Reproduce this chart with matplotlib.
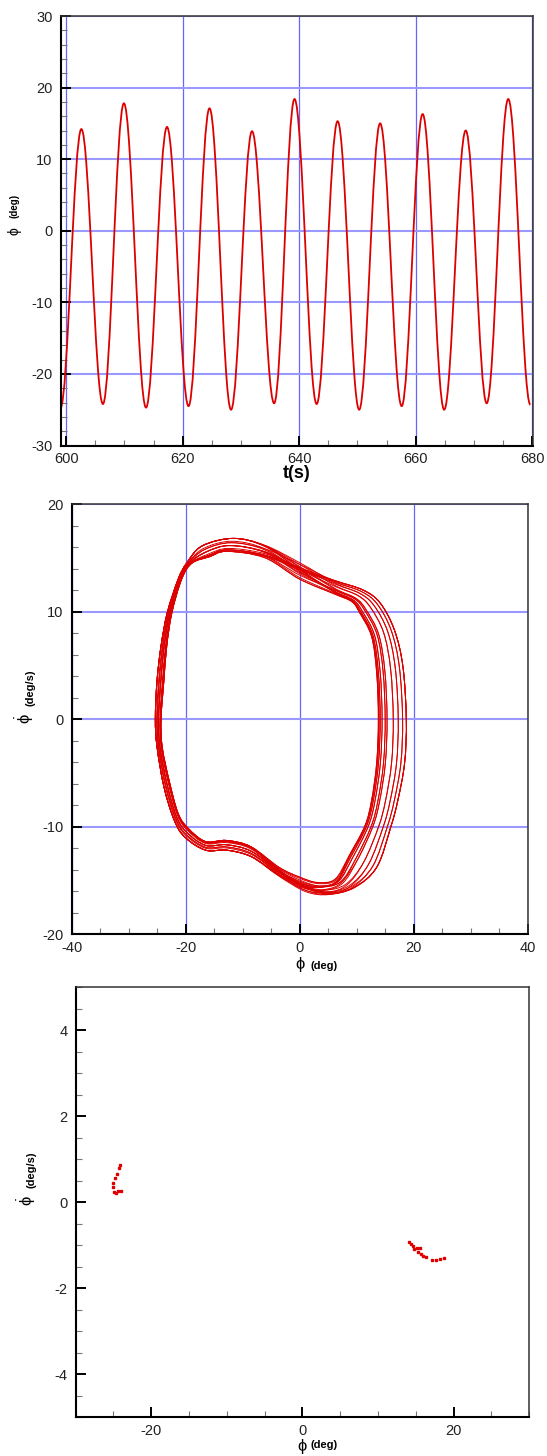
import matplotlib
matplotlib.use('Agg')
import matplotlib.pyplot as plt
from matplotlib.path import Path
from matplotlib.patches import PathPatch
from matplotlib.ticker import MultipleLocator
import numpy as np

plt.rcParams['font.family'] = ['Liberation Sans', 'DejaVu Sans']
plt.rcParams['axes.unicode_minus'] = False
plt.rcParams['mathtext.fontset'] = 'dejavusans'
plt.rcParams['mathtext.default'] = 'regular'

# --- roll time history: extrema ---
trough_t = [599.0, 606.3, 613.7, 621.0, 628.3, 635.7, 643.0, 650.3, 657.6, 664.9, 672.2, 679.7]
trough_v = [-24.8, -24.2, -24.7, -24.5, -25.0, -24.1, -24.2, -25.0, -24.5, -25.0, -24.1, -24.3]
peak_t = [602.6, 609.9, 617.3, 624.6, 631.9, 639.2, 646.6, 653.9, 661.2, 668.6, 675.9]
peak_v = [14.2, 17.8, 14.5, 17.1, 13.9, 18.4, 15.3, 15.0, 16.3, 14.0, 18.4]

# --- phase plane: inner and outer loops of the band ---
outer_phi = [-25.3, -25.0, -24.3, -23.2, -21.3, -19.8, -17.1, -11.6, -6.1, 0.0, 6.2, 11.1, 14.1, 16.6, 18.1, 18.7,
             18.4, 17.2, 16.0, 13.5, 9.8, 5.6, 1.3, -3.6, -8.5, -12.8, -16.5, -20.1, -22.0, -23.8, -25.0]
outer_rate = [0.0, 3.6, 6.8, 9.9, 13.0, 14.5, 16.1, 16.8, 16.2, 14.8, 13.0, 12.0, 10.8, 8.3, 4.9, 0.0,
              -4.1, -7.6, -10.0, -13.8, -15.8, -16.6, -16.3, -14.7, -12.8, -12.2, -12.2, -11.0, -9.4, -6.3, -2.6]
inner_phi = [-24.3, -23.8, -23.3, -22.4, -20.7, -18.9, -15.8, -12.8, -6.1, 0.0, 6.2, 9.2, 10.5, 12.6, 13.5, 13.8,
             13.5, 12.6, 11.4, 8.6, 6.2, 3.1, 0.0, -3.6, -8.5, -12.8, -16.5, -19.5, -21.3, -22.9, -24.1]
inner_rate = [0.0, 3.6, 6.8, 9.9, 13.0, 14.5, 15.1, 15.6, 15.0, 13.0, 11.6, 10.9, 9.9, 7.7, 4.3, 0.0,
              -4.1, -7.6, -10.0, -12.8, -14.9, -15.2, -14.7, -13.8, -11.9, -11.3, -11.4, -10.2, -8.8, -5.7, -2.6]

# --- Poincare section points ---
poin_phi = [-24.15, -24.3, -24.6, -24.8, -25.0, -25.1, -24.9, -24.7, -24.35, -24.0,
            14.07, 14.4, 14.65, 14.7, 15.1, 15.5, 15.3, 15.7, 16.0, 16.4, 17.2, 17.7, 18.2, 18.7]
poin_rate = [0.86, 0.78, 0.66, 0.55, 0.44, 0.35, 0.23, 0.20, 0.25, 0.26,
             -0.92, -0.97, -1.02, -1.09, -1.07, -1.07, -1.17, -1.22, -1.25, -1.28, -1.36, -1.34, -1.32, -1.30]

RED = '#dd0000'
W, H = 547, 1456


def px(x, y):
    return x / W, 1 - y / H


def style(ax, xmaj, xmin, ymaj, ymin, grid=True):
    ax.xaxis.set_major_locator(MultipleLocator(xmaj))
    ax.xaxis.set_minor_locator(MultipleLocator(xmin))
    ax.yaxis.set_major_locator(MultipleLocator(ymaj))
    ax.yaxis.set_minor_locator(MultipleLocator(ymin))
    ax.tick_params(which='major', direction='in', length=7.5, width=1.4, color='black',
                   top=False, right=False, labelsize=10.5, labelcolor='#222222')
    ax.tick_params(which='minor', direction='in', length=4, width=0.8, color='#777777',
                   top=False, right=False)
    ax.tick_params(axis='x', which='major', pad=5)
    ax.tick_params(axis='y', which='major', pad=6)
    for s in ['left', 'bottom']:
        ax.spines[s].set_linewidth(1.5)
    for s in ['top', 'right']:
        ax.spines[s].set_linewidth(1.1)
        ax.spines[s].set_color('#333333')
    if grid:
        ax.set_axisbelow(True)
        ax.grid(True, axis='y', which='major', color='#9999ff', lw=1.5)
        ax.grid(True, axis='x', which='major', color='#6666ff', lw=0.9)


def smooth_closed(xs, ys):
    # Catmull-Rom through the read points, drawn as Bezier path
    n = len(xs)
    P = list(zip(xs, ys))
    verts = [P[0]]
    codes = [Path.MOVETO]
    for i in range(n):
        p0, p1, p2, p3 = P[i - 1], P[i], P[(i + 1) % n], P[(i + 2) % n]
        c1 = (p1[0] + (p2[0] - p0[0]) / 6, p1[1] + (p2[1] - p0[1]) / 6)
        c2 = (p2[0] - (p3[0] - p1[0]) / 6, p2[1] - (p3[1] - p1[1]) / 6)
        verts += [c1, c2, p2]
        codes += [Path.CURVE4] * 3
    return Path(verts, codes)


fig = plt.figure(figsize=(W / 100, H / 100), dpi=100)

# ---------------- panel 1 ----------------
ax1 = fig.add_axes([61 / W, 1 - 445.5 / H, (532.7 - 61) / W, (445.5 - 16) / H])
ext_t, ext_v = [], []
for i in range(len(trough_t)):
    ext_t.append(trough_t[i]); ext_v.append(trough_v[i])
    if i < len(peak_t):
        ext_t.append(peak_t[i]); ext_v.append(peak_v[i])
verts = [(ext_t[0], ext_v[0])]
codes = [Path.MOVETO]
for i in range(len(ext_t) - 1):
    dt = ext_t[i + 1] - ext_t[i]
    verts += [(ext_t[i] + 0.364 * dt, ext_v[i]), (ext_t[i + 1] - 0.364 * dt, ext_v[i + 1]),
              (ext_t[i + 1], ext_v[i + 1])]
    codes += [Path.CURVE4] * 3
ax1.add_patch(PathPatch(Path(verts, codes), fill=False, edgecolor=RED, lw=1.3))
ax1.set_xlim(599.1, 680.1)
ax1.set_ylim(-30, 30)
style(ax1, 20, 5, 10, 2)

fig.text(*px(15, 231), 'ϕ', rotation=90, fontsize=10, ha='center', va='center')
fig.text(*px(15, 206), '(deg)', rotation=90, fontsize=7, fontweight='bold', ha='center', va='center')
fig.text(*px(297, 474), 't(s)', fontsize=13, fontweight='bold', ha='center', va='center')

# ---------------- panel 2 ----------------
ax2 = fig.add_axes([71.5 / W, 1 - 934 / H, 456.3 / W, 430 / H])
pmin, pmax = min(peak_v), max(peak_v)
tmin, tmax = max(trough_v), min(trough_v)
# each cycle: right side follows its peak, left side its trough
for k in range(len(peak_v)):
    wr = (peak_v[k] - pmin) / (pmax - pmin)
    for tv in (trough_v[k], trough_v[k + 1]):
        wl = (tv - tmin) / (tmax - tmin)
        xs, ys = [], []
        for a, b, c, d in zip(inner_phi, outer_phi, inner_rate, outer_rate):
            s = min(max((a + 8.0) / 16.0, 0.0), 1.0)
            w = wl + (wr - wl) * s
            xs.append((1 - w) * a + w * b)
            ys.append((1 - w) * c + w * d)
        ax2.add_patch(PathPatch(smooth_closed(xs, ys), fill=False, edgecolor=RED, lw=0.7))
ax2.set_xlim(-40, 40)
ax2.set_ylim(-20, 20)
style(ax2, 20, 5, 10, 2)

fig.text(*px(25, 719), r'$\dot{\phi}$', rotation=90, fontsize=12, ha='center', va='center')
fig.text(*px(30, 688), '(deg/s)', rotation=90, fontsize=8, fontweight='bold', ha='center', va='center')
fig.text(*px(300, 965), 'ϕ', fontsize=12, ha='center', va='center')
fig.text(*px(324, 966), '(deg)', fontsize=8, fontweight='bold', ha='center', va='center')

# ---------------- panel 3 ----------------
ax3 = fig.add_axes([75.7 / W, 1 - 1417 / H, 453.5 / W, 430 / H])
ax3.plot(poin_phi, poin_rate, ls='none', marker='s', ms=1.8, mec=RED, mfc=RED)
ax3.set_xlim(-30, 30)
ax3.set_ylim(-5, 5)
style(ax3, 20, 5, 2, 0.5, grid=False)

fig.text(*px(27, 1201), r'$\dot{\phi}$', rotation=90, fontsize=12, ha='center', va='center')
fig.text(*px(31.7, 1170), '(deg/s)', rotation=90, fontsize=8, fontweight='bold', ha='center', va='center')
fig.text(*px(302, 1447), 'ϕ', fontsize=12, ha='center', va='center')
fig.text(*px(324.5, 1445), '(deg)', fontsize=8, fontweight='bold', ha='center', va='center')

fig.savefig('out.png', dpi=100)
